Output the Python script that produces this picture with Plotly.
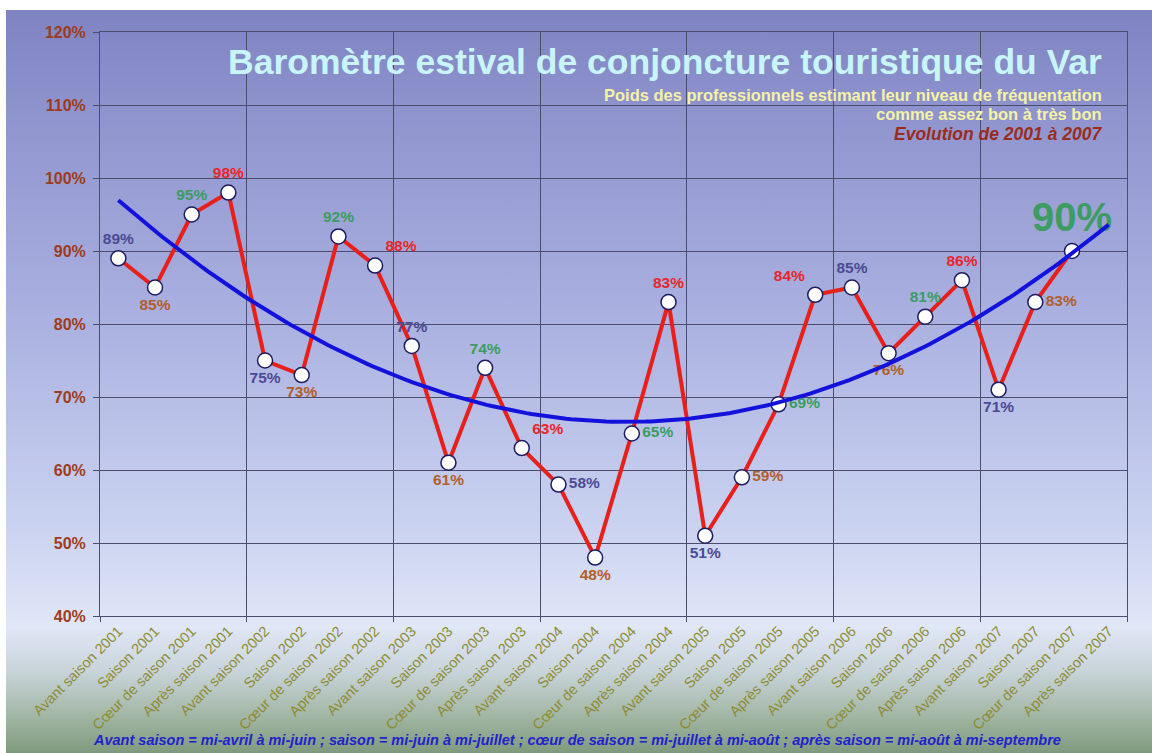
import base64
import numpy as np
import plotly.graph_objects as go

# ---------------- data ----------------
years = ["2001", "2002", "2003", "2004", "2005", "2006", "2007"]
periods = ["Avant saison", "Saison", "Cœur de saison", "Après saison"]
categories = [f"{p} {y}" for y in years for p in periods]

values = [89, 85, 95, 98,
          75, 73, 92, 88,
          77, 61, 74, 63,
          58, 48, 65, 83,
          51, 59, 69, 84,
          85, 76, 81, 86,
          71, 83, 90]

y_ticks = [40, 50, 60, 70, 80, 90, 100, 110, 120]

# ---------------- styles ----------------
period_colors = {"Avant saison": "#4b4a96", "Saison": "#b0602c",
                 "Cœur de saison": "#3d9c62", "Après saison": "#e8262a"}
label_positions = ["top center", "bottom center", "top center", "top center",
                   "bottom center", "bottom center", "top center", "top right",
                   "top center", "bottom center", "top center", "top right",
                   "middle right", "bottom center", "middle right", "top center",
                   "bottom center", "middle right", "middle right", "top left",
                   "top center", "bottom center", "top center", "top center",
                   "bottom center", "middle right", "top center"]

n = len(values)
xs = list(range(n))
label_colors = [period_colors[periods[i % 4]] for i in xs]
label_sizes = [15.5] * (n - 1) + [40]
labels = [f"{v}%" for v in values]

# polynomial (order 2) trend, extended one period forward
coef = np.polyfit(xs, values, 2)
tx = np.linspace(0, len(categories) - 1, 200)
ty = np.polyval(coef, tx)

W, H = 1152, 753
L, R, T, B = 100, 25, 32, 137
PW, PH = W - L - R, H - T - B


def px_x(p):
    return (p - L) / PW


def px_y(p):
    return 1 - (p - T) / PH


FONT = "Liberation Sans, Arial, sans-serif"

# background gradient
svg = """<svg xmlns='http://www.w3.org/2000/svg' width='100' height='100' preserveAspectRatio='none' viewBox='0 0 100 100'>
<defs><linearGradient id='g' x1='0' y1='0' x2='0' y2='1'>
<stop offset='0' stop-color='#7f83c2'/>
<stop offset='0.15' stop-color='#9095cf'/>
<stop offset='0.40' stop-color='#a9afdf'/>
<stop offset='0.70' stop-color='#cbd3f1'/>
<stop offset='0.83' stop-color='#e0e7f7'/>
<stop offset='0.89' stop-color='#c8d4da'/>
<stop offset='0.95' stop-color='#a2b6a4'/>
<stop offset='1' stop-color='#7e9a7e'/>
</linearGradient></defs>
<rect x='0' y='0' width='100' height='100' fill='url(#g)'/></svg>"""
src = "data:image/svg+xml;base64," + base64.b64encode(svg.encode()).decode()

fig = go.Figure()

fig.add_trace(go.Scatter(
    x=xs, y=values, mode="lines+markers+text",
    line=dict(color="#e8201c", width=4),
    marker=dict(size=15, color="white", line=dict(color="#1c1c60", width=1.5)),
    text=labels, textposition=label_positions,
    textfont=dict(family=FONT, size=label_sizes, color=label_colors, weight="bold"),
    cliponaxis=False, showlegend=False, hoverinfo="skip"))

fig.add_trace(go.Scatter(
    x=tx, y=ty, mode="lines", line=dict(color="#1212dc", width=4),
    showlegend=False, hoverinfo="skip"))

year_bounds = [i * 4 - 0.5 for i in range(len(years) + 1)]

fig.update_layout(
    width=W, height=H,
    margin=dict(l=L, r=R, t=T, b=B, autoexpand=False),
    paper_bgcolor="white", plot_bgcolor="rgba(0,0,0,0)",
    font=dict(family=FONT),
    xaxis=dict(range=[-0.5, len(categories) - 0.5], tickmode="array",
               tickvals=list(range(len(categories))), ticktext=categories,
               tickangle=-45, showgrid=False, zeroline=False, ticks="",
               tickfont=dict(family=FONT, size=14.5, color="#8e8c34"),
               showline=True, linecolor="#4c4c6c", linewidth=1, mirror=True,
               automargin=False,
               minor=dict(tickmode="array", tickvals=year_bounds, showgrid=True,
                          gridcolor="#4c4c6c", gridwidth=1, ticks="outside",
                          ticklen=5, tickcolor="#4c4c6c")),
    yaxis=dict(range=[40, 120], tickmode="array", tickvals=y_ticks,
               ticktext=[f"{v}%" for v in y_ticks], showgrid=True,
               gridcolor="#4c4c6c", gridwidth=1, zeroline=False,
               ticks="outside", ticklen=6, tickcolor="#4c4c6c",
               ticklabelstandoff=4,
               tickfont=dict(family=FONT, size=16, color="#9c3c1c", weight="bold"),
               showline=True, linecolor="#4c4c6c", linewidth=1, mirror=True,
               automargin=False),
    images=[dict(source=src, xref="paper", yref="paper",
                 x=px_x(6), y=px_y(10), sizex=(W - 6) / PW, sizey=(H - 10) / PH,
                 xanchor="left", yanchor="top", sizing="stretch", layer="below")],
    annotations=[
        dict(text="Baromètre estival de conjoncture touristique du Var",
             xref="paper", yref="paper", x=px_x(1104), y=px_y(62),
             xanchor="right", yanchor="middle", showarrow=False,
             font=dict(family=FONT, size=35.5, color="#c8f6f8", weight="bold")),
        dict(text="Poids des professionnels estimant leur niveau de fréquentation",
             xref="paper", yref="paper", x=px_x(1104), y=px_y(95),
             xanchor="right", yanchor="middle", showarrow=False,
             font=dict(family=FONT, size=16.5, color="#f4f2a4", weight="bold")),
        dict(text="comme assez bon à très bon",
             xref="paper", yref="paper", x=px_x(1104), y=px_y(114),
             xanchor="right", yanchor="middle", showarrow=False,
             font=dict(family=FONT, size=16.5, color="#f4f2a4", weight="bold")),
        dict(text="<b><i>Evolution de 2001 à 2007</i></b>",
             xref="paper", yref="paper", x=px_x(1104), y=px_y(134),
             xanchor="right", yanchor="middle", showarrow=False,
             font=dict(family=FONT, size=17.5, color="#9a2c1c")),
        dict(text="<b><i>Avant saison = mi-avril à mi-juin ; saison = mi-juin à mi-juillet ; cœur de saison = mi-juillet à mi-août ; après saison = mi-août à mi-septembre</i></b>",
             xref="paper", yref="paper", x=px_x(577), y=px_y(740),
             xanchor="center", yanchor="middle", showarrow=False,
             font=dict(family=FONT, size=14.5, color="#2222cc")),
    ],
)

fig.write_html("out.html", config={"displayModeBar": False},
               post_script="document.body.style.margin='0';document.body.style.overflow='hidden';")
